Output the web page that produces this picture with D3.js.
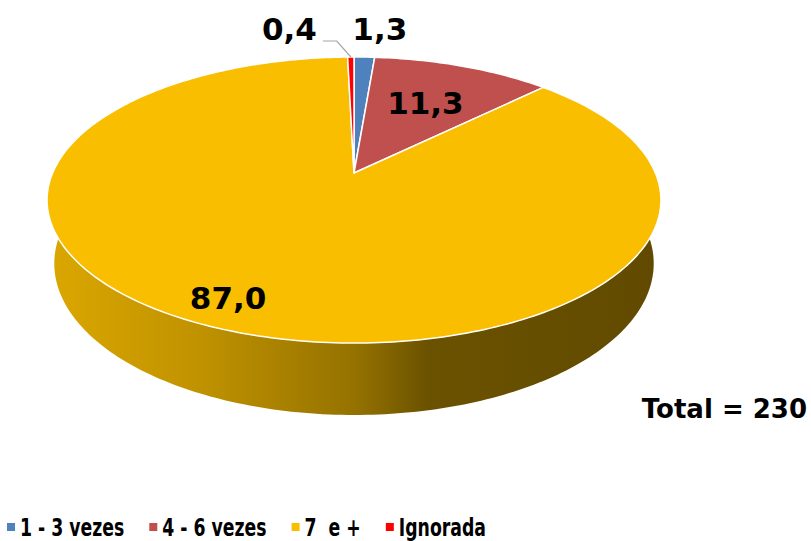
<!DOCTYPE html>
<html>
<head>
<meta charset="utf-8">
<script src="https://cdn.jsdelivr.net/npm/d3@7"></script>
<style>
  body { margin: 0; background: #fff; }
  svg text { font-family: Verdana, "DejaVu Sans", sans-serif; font-weight: bold; }
</style>
</head>
<body>
<svg id="chart" width="811" height="541"></svg>
<script>
const categories = ['1 - 3 vezes', '4 - 6 vezes', '7  e +', 'Ignorada'];
const values = [1.3, 11.3, 87.0, 0.4];
const labels = ['1,3', '11,3', '87,0', '0,4'];
const colors = ['#4f81bd', '#c0504d', '#f9be00', '#ff0000'];
const totalLabel = 'Total = 230';

const svg = d3.select('#chart');

// perspective view of a tilted disc (fit to the reference)
const view = { cx: 354, cy: 173, k: 1419, dist: 4.708, cosE: 0.889, sinE: 0.4576, depth: 0.2388 };
const proj = function (a, f, h) {
  const z = view.dist + f * Math.cos(a) * view.cosE + h * view.sinE;
  return [
    view.cx + view.k * f * Math.sin(a) / z,
    view.cy + view.k * (-f * Math.cos(a) * view.sinE + h * view.cosE) / z,
  ];
};
const rim = function (a0, a1, h) {
  const n = Math.max(2, Math.ceil(Math.abs(a1 - a0) / (Math.PI / 180)));
  return d3.range(n + 1).map(i => proj(a0 + (a1 - a0) * i / n, 1, h));
};

const pie = d3.pie().sort(null).value(d => d.value);
const arcs = pie(categories.map((c, i) => ({ key: c, value: values[i], label: labels[i], color: colors[i] })));

// side gradients
const defs = svg.append('defs');
arcs.forEach((d, i) => {
  const base = d3.color(d.data.color);
  const g = defs.append('linearGradient').attr('id', `side-${i}`)
    .attr('gradientUnits', 'userSpaceOnUse')
    .attr('x1', view.cx - 307).attr('x2', view.cx + 307).attr('y1', 0).attr('y2', 0);
  [[0, 0.88], [0.25, 0.77], [0.5, 0.6], [0.62, 0.43], [1, 0.39]].forEach(([o, m]) => {
    g.append('stop').attr('offset', o)
      .attr('stop-color', d3.rgb(base.r * m, base.g * m, base.b * m).formatHex());
  });
});

const line = d3.line();

// sides
svg.append('g').attr('class', 'sides')
  .selectAll('path').data(arcs).join('path')
  .attr('d', d => {
    const top = rim(d.startAngle, d.endAngle, 0);
    const bot = rim(d.endAngle, d.startAngle, view.depth);
    return line(top.concat(bot)) + 'Z';
  })
  .attr('fill', (d, i) => `url(#side-${i})`);

// tops
svg.append('g').attr('class', 'tops')
  .selectAll('path').data(arcs).join('path')
  .attr('d', d => line([proj(0, 0, 0)].concat(rim(d.startAngle, d.endAngle, 0))) + 'Z')
  .attr('fill', d => d.data.color)
  .attr('stroke', '#fff')
  .attr('stroke-width', 1.5)
  .attr('stroke-linejoin', 'round');

// data labels
const lab = svg.append('g').attr('class', 'labels');
arcs.forEach(d => {
  const mid = (d.startAngle + d.endAngle) / 2;
  const share = d.data.value / 100;
  if (share >= 0.03) {
    const [x, y] = proj(share > 0.5 ? mid + 0.05 : mid, share > 0.5 ? 0.85 : 0.62, 0);
    lab.append('text').attr('x', x).attr('y', y).attr('dy', '0.36em')
      .attr('text-anchor', 'middle').style('font-size', '31px').text(d.data.label);
  } else {
    const [rx, ry] = proj(mid, 1, 0);
    const ty = ry - 17;
    if (mid < Math.PI) {
      lab.append('text').attr('x', rx - 12).attr('y', ty)
        .attr('text-anchor', 'start').style('font-size', '31px').text(d.data.label);
    } else {
      const tx = rx - 34;
      lab.append('polyline')
        .attr('points', [[tx + 6, ty + 1], [tx + 20, ty + 1], [rx, ry]].join(' '))
        .attr('fill', 'none').attr('stroke', '#a6a6a6').attr('stroke-width', 1.2);
      lab.append('text').attr('x', tx).attr('y', ty)
        .attr('text-anchor', 'end').style('font-size', '31px').text(d.data.label);
    }
  }
});

svg.append('text').attr('x', 807).attr('y', 418)
  .attr('text-anchor', 'end').style('font-size', '26px').text(totalLabel);

// legend
const legend = svg.append('g').attr('class', 'legend');
const squeeze = 0.72;
let lx = 7;
categories.forEach((c, i) => {
  legend.append('rect').attr('x', lx).attr('y', 523).attr('width', 8).attr('height', 8)
    .attr('fill', colors[i]);
  const tx = lx + 13;
  const t = legend.append('text')
    .attr('transform', `translate(${tx},536) scale(${squeeze},1)`)
    .style('font-size', '24px').style('white-space', 'pre').attr('xml:space', 'preserve')
    .text(c);
  lx = tx + t.node().getComputedTextLength() * squeeze + 25;
});
</script>
</body>
</html>
